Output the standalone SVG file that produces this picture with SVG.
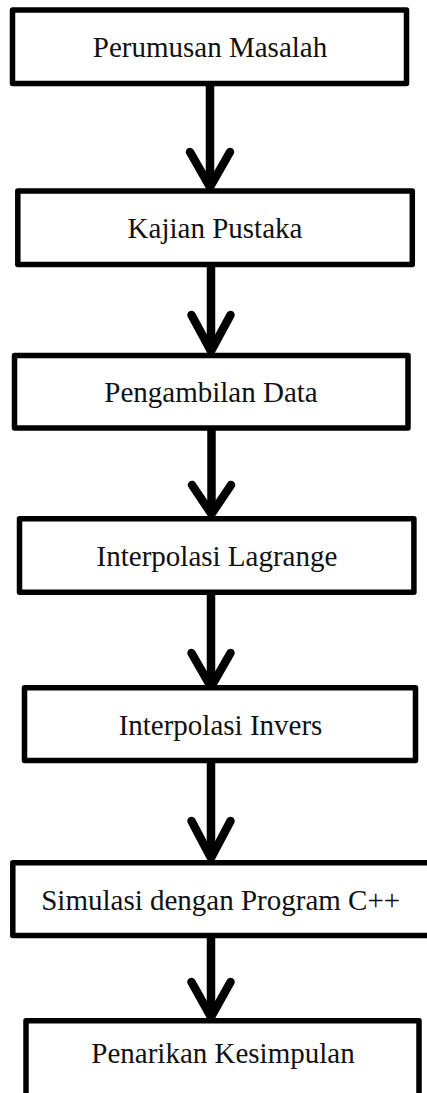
<svg xmlns="http://www.w3.org/2000/svg" width="427" height="1093" viewBox="0 0 427 1093">
<style>
.box{fill:#fff;stroke:#000;stroke-width:5.5;stroke-linejoin:round}
.lbl{font-family:"Liberation Serif","Times New Roman",serif;font-size:29px;fill:#111;text-anchor:middle}
.shaft{stroke:#000;stroke-width:8.5;fill:none}
.head{stroke:#000;stroke-width:8.5;fill:none;stroke-linecap:round;stroke-linejoin:miter}
</style>
<rect width="427" height="1093" fill="#fff"/>
<g id="connectors">
<line class="shaft" x1="210" y1="86" x2="210" y2="186"/>
<polyline class="head" points="190,152 210,187 230,152"/>
<line class="shaft" x1="211" y1="267" x2="211" y2="351"/>
<polyline class="head" points="191.5,315 211,351 230.5,315"/>
<line class="shaft" x1="211.5" y1="430" x2="211.5" y2="514"/>
<polyline class="head" points="192,485 211.5,514 231,485"/>
<line class="shaft" x1="211" y1="595" x2="211" y2="686"/>
<polyline class="head" points="191.5,653 211,687 230.5,653"/>
<line class="shaft" x1="211" y1="763" x2="211" y2="858"/>
<polyline class="head" points="191.5,821 211,858 230.5,821"/>
<line class="shaft" x1="211" y1="938" x2="211" y2="1016"/>
<polyline class="head" points="191.5,982 211,1017 230.5,982"/>
</g>
<g id="n1"><rect class="box" x="12.5" y="10" width="394" height="73.5"/><text class="lbl" x="210" y="57">Perumusan Masalah</text></g>
<g id="n2"><rect class="box" x="17.8" y="191" width="394.5" height="73.5"/><text class="lbl" x="215" y="238">Kajian Pustaka</text></g>
<g id="n3"><rect class="box" x="14.5" y="355.5" width="393.5" height="72.5"/><text class="lbl" x="211" y="402">Pengambilan Data</text></g>
<g id="n4"><rect class="box" x="19.5" y="518.8" width="394.4" height="73.4"/><text class="lbl" x="217" y="566">Interpolasi Lagrange</text></g>
<g id="n5"><rect class="box" x="24.5" y="687.8" width="391" height="72.7"/><text class="lbl" x="220.5" y="735">Interpolasi Invers</text></g>
<g id="n6"><rect class="box" x="12.8" y="862.8" width="422" height="72.7"/><text class="lbl" x="220.7" y="910">Simulasi dengan Program C++</text></g>
<g id="n7"><rect class="box" x="26" y="1020.8" width="393" height="100"/><text class="lbl" x="223" y="1063">Penarikan Kesimpulan</text></g>
</svg>
